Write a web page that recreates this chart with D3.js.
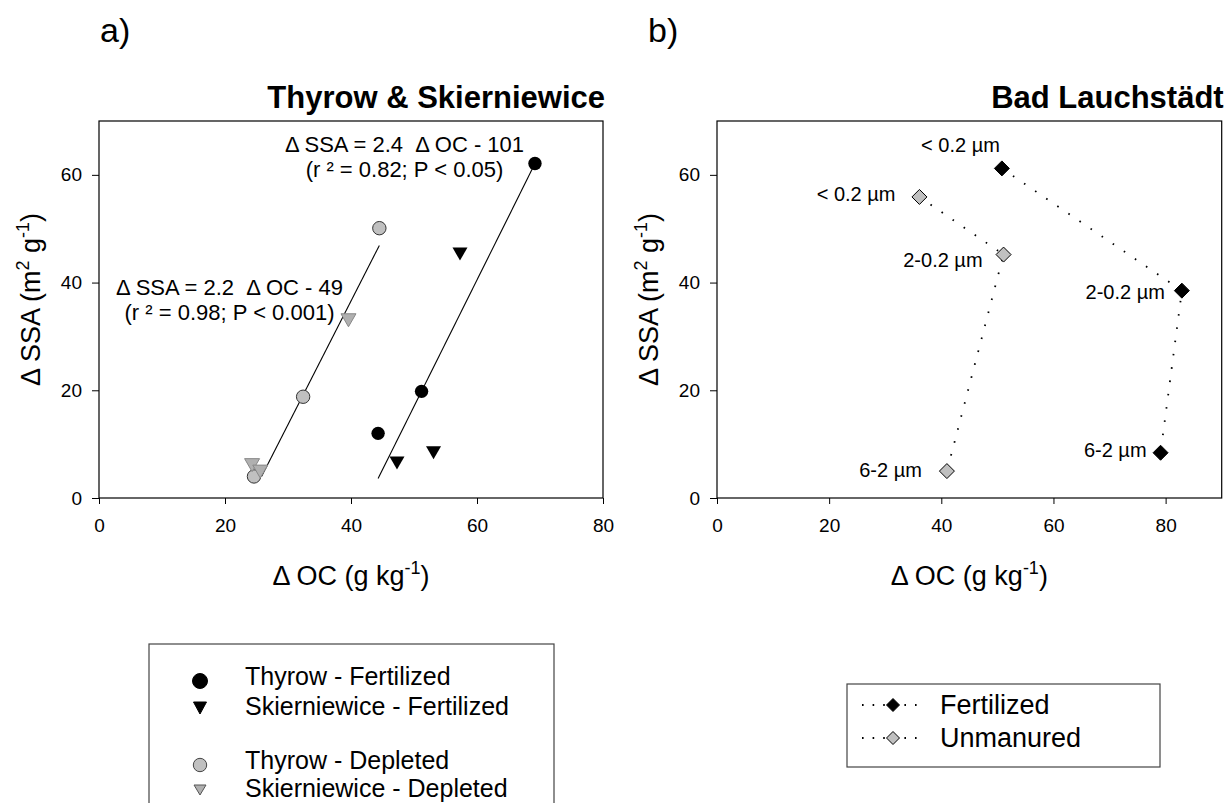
<!DOCTYPE html>
<html>
<head>
<meta charset="utf-8">
<script src="https://cdn.jsdelivr.net/npm/d3@7"></script>
<style>
    body { margin: 0; background: #fff; }
    svg { font-family: Arial, "Liberation Sans", sans-serif; }
</style>
</head>
<body>
<svg id="chart" width="1224" height="803"></svg>
<script>
// ---- panel a: Thyrow & Skierniewice ----
const thyrowFertOC = [69.2, 51.2, 44.3];
const thyrowFertSSA = [62.1, 19.8, 12.0];
const skierFertOC = [57.3, 47.3, 53.1];
const skierFertSSA = [45.3, 6.5, 8.4];
const thyrowDeplOC = [44.5, 32.4, 24.6];
const thyrowDeplSSA = [50.1, 18.8, 4.0];
const skierDeplOC = [39.6, 24.3, 25.6];
const skierDeplSSA = [33.0, 6.1, 4.9];

// regression line end points as drawn
const fitFertOC = [44.3, 68.9];
const fitFertSSA = [3.6, 61.4];
const fitDeplOC = [25.8, 44.5];
const fitDeplSSA = [4.0, 46.9];

const eqFert = ["\u0394 SSA = 2.4  \u0394 OC - 101", "(r \u00b2 = 0.82; P < 0.05)"];
const eqDepl = ["\u0394 SSA = 2.2  \u0394 OC - 49", "(r \u00b2 = 0.98; P < 0.001)"];
const legendA = ["Thyrow - Fertilized", "Skierniewice - Fertilized", "Thyrow - Depleted", "Skierniewice - Depleted"];

// ---- panel b: Bad Lauchstaedt ----
const fractions = ["< 0.2 \u00b5m", "2-0.2 \u00b5m", "6-2 \u00b5m"];
const badFertOC = [50.8, 82.9, 79.1];
const badFertSSA = [61.2, 38.5, 8.4];
const badUnmanOC = [36.1, 51.1, 41.0];
const badUnmanSSA = [55.9, 45.2, 5.0];
const legendB = ["Fertilized", "Unmanured"];

const ocTicks = [0, 20, 40, 60, 80];
const ssaTicks = [0, 20, 40, 60];

const svg = d3.select("#chart");
const grey = "#c0c0c0";
const dots = "1.6 11.8";

const xA = d3.scaleLinear().domain([0, 80]).range([99, 603]);
const xB = d3.scaleLinear().domain([0, 90]).range([717, 1221.7]);
const y = d3.scaleLinear().domain([0, 70]).range([498, 121]);

function tri(w, h) {
    return `M${-w / 2},${-h / 2}L${w / 2},${-h / 2}L0,${h / 2}Z`;
}
function diamond(r) {
    return `M0,${-r}L${r},0L0,${r}L${-r},0Z`;
}

function drawFrame(x, title, tag, tagX) {
    const g = svg.append("g");

    g.append("g")
        .attr("transform", `translate(0,${y(0)})`)
        .call(d3.axisBottom(x).tickValues(ocTicks).tickSizeInner(6).tickSizeOuter(0).tickPadding(15))
        .call(a => a.select(".domain").remove())
        .selectAll("text").style("font-size", "19px").attr("fill", "#000");

    g.append("g")
        .attr("transform", `translate(${x.range()[0]},0)`)
        .call(d3.axisLeft(y).tickValues(ssaTicks).tickSizeInner(7).tickSizeOuter(0).tickPadding(10))
        .call(a => a.select(".domain").remove())
        .selectAll("text").style("font-size", "19px").attr("fill", "#000");

    g.append("rect")
        .attr("x", x.range()[0]).attr("y", y(70))
        .attr("width", x.range()[1] - x.range()[0])
        .attr("height", y(0) - y(70))
        .attr("fill", "none").attr("stroke", "#000").attr("stroke-width", 1.2);

    // x label
    const xl = g.append("text")
        .attr("x", (x.range()[0] + x.range()[1]) / 2).attr("y", 585)
        .attr("text-anchor", "middle").style("font-size", "27px");
    xl.append("tspan").text("\u0394 OC (g kg");
    xl.append("tspan").attr("dy", -11).style("font-size", "18px").text("-1");
    xl.append("tspan").attr("dy", 11).text(")");

    // y label
    const yl = g.append("text")
        .attr("transform", `translate(${x.range()[0] - 59},${(y(0) + y(70)) / 2 - 10}) rotate(-90)`)
        .attr("text-anchor", "middle").style("font-size", "27px");
    yl.append("tspan").text("\u0394 SSA (m");
    yl.append("tspan").attr("dy", -11).style("font-size", "18px").text("2");
    yl.append("tspan").attr("dy", 11).text(" g");
    yl.append("tspan").attr("dy", -11).style("font-size", "18px").text("-1");
    yl.append("tspan").attr("dy", 11).text(")");

    g.append("text")
        .attr("x", x.range()[1] + 2).attr("y", 108)
        .attr("text-anchor", "end")
        .style("font-size", "31px").style("font-weight", "bold")
        .text(title);

    g.append("text")
        .attr("x", tagX).attr("y", 42)
        .style("font-size", "34px")
        .text(tag);
    return g;
}

// ================= panel a =================
const ga = drawFrame(xA, "Thyrow & Skierniewice", "a)", 100);

const fitLine = d3.line().x(d => xA(d[0])).y(d => y(d[1]));
[[fitFertOC, fitFertSSA], [fitDeplOC, fitDeplSSA]].forEach(([xs, ys]) => {
    ga.append("path")
        .attr("d", fitLine(d3.zip(xs, ys)))
        .attr("fill", "none").attr("stroke", "#000").attr("stroke-width", 1.1);
});

ga.append("g").selectAll("circle")
    .data(d3.zip(thyrowDeplOC, thyrowDeplSSA))
    .join("circle")
    .attr("cx", d => xA(d[0])).attr("cy", d => y(d[1])).attr("r", 6.7)
    .attr("fill", grey).attr("stroke", "#333").attr("stroke-width", 1);

ga.append("g").selectAll("path")
    .data(d3.zip(skierDeplOC, skierDeplSSA))
    .join("path")
    .attr("d", tri(15, 13))
    .attr("transform", d => `translate(${xA(d[0])},${y(d[1])})`)
    .attr("fill", "#b0b0b0").attr("stroke", "#888").attr("stroke-width", 1);

ga.append("g").selectAll("circle")
    .data(d3.zip(thyrowFertOC, thyrowFertSSA))
    .join("circle")
    .attr("cx", d => xA(d[0])).attr("cy", d => y(d[1])).attr("r", 6.7)
    .attr("fill", "#000");

ga.append("g").selectAll("path")
    .data(d3.zip(skierFertOC, skierFertSSA))
    .join("path")
    .attr("d", tri(15, 13))
    .attr("transform", d => `translate(${xA(d[0])},${y(d[1])})`)
    .attr("fill", "#000");

function equation(lines, cx, y1, y2) {
    const t = ga.append("text").attr("text-anchor", "middle").style("font-size", "22px");
    t.append("tspan").attr("x", cx).attr("y", y1).attr("xml:space", "preserve").text(lines[0]);
    t.append("tspan").attr("x", cx).attr("y", y2).text(lines[1]);
}
equation(eqFert, 404.5, 152, 177);
equation(eqDepl, 229.5, 295, 320);

// legend a
const la = svg.append("g");
la.append("rect").attr("x", 149).attr("y", 644).attr("width", 405).attr("height", 170)
    .attr("fill", "none").attr("stroke", "#444").attr("stroke-width", 1.2);
const legRowsA = [685, 715, 769, 797];
legendA.forEach((name, i) => {
    const by = legRowsA[i];
    if (i % 2 === 0) {
        la.append("circle").attr("cx", 200).attr("cy", by - 4).attr("r", i === 0 ? 7.5 : 6.7)
            .attr("fill", i === 0 ? "#000" : grey).attr("stroke", i === 0 ? "#000" : "#444");
    } else {
        la.append("path").attr("d", i === 1 ? tri(13, 12) : tri(12, 10))
            .attr("transform", `translate(200,${by - 7})`)
            .attr("fill", i === 1 ? "#000" : "#b0b0b0").attr("stroke", i === 1 ? "#000" : "#555");
    }
    la.append("text").attr("x", 245).attr("y", by).style("font-size", "25px").text(name);
});

// ================= panel b =================
const gb = drawFrame(xB, "Bad Lauchst\u00e4dt", "b)", 648);

const dotLine = d3.line().x(d => xB(d[0])).y(d => y(d[1]));
[[badFertOC, badFertSSA], [badUnmanOC, badUnmanSSA]].forEach(([xs, ys]) => {
    gb.append("path")
        .attr("d", dotLine(d3.zip(xs, ys)))
        .attr("fill", "none").attr("stroke", "#000").attr("stroke-width", 1.8)
        .attr("stroke-dasharray", dots);
});

// label offsets (end anchor) per fraction
const offFert = [[-2, -16], [-17, 8], [-14, 4]];
const offUnman = [[-24, 4], [-21, 12], [-25, 6]];

function diamonds(xs, ys, fill, offs) {
    const pts = d3.zip(xs, ys, fractions, offs);
    gb.append("g").selectAll("path")
        .data(pts).join("path")
        .attr("d", diamond(7.5))
        .attr("transform", d => `translate(${xB(d[0])},${y(d[1])})`)
        .attr("fill", fill).attr("stroke", "#000").attr("stroke-width", 1);
    gb.append("g").selectAll("text")
        .data(pts).join("text")
        .attr("x", d => xB(d[0]) + d[3][0]).attr("y", d => y(d[1]) + d[3][1])
        .attr("text-anchor", "end").style("font-size", "20px")
        .text(d => d[2]);
}
diamonds(badUnmanOC, badUnmanSSA, grey, offUnman);
diamonds(badFertOC, badFertSSA, "#000", offFert);

// legend b
const lb = svg.append("g");
lb.append("rect").attr("x", 847).attr("y", 684).attr("width", 313).attr("height", 83)
    .attr("fill", "none").attr("stroke", "#444").attr("stroke-width", 1.2);
const legRowsB = [705, 738];
legendB.forEach((name, i) => {
    const cy = legRowsB[i];
    lb.append("path").attr("d", `M862,${cy}L920,${cy}`)
        .attr("stroke", "#000").attr("stroke-width", 1.8).attr("stroke-dasharray", "1.6 9");
    lb.append("path").attr("d", diamond(6.5))
        .attr("transform", `translate(893,${cy})`)
        .attr("fill", i === 0 ? "#000" : grey).attr("stroke", "#000");
    lb.append("text").attr("x", 940).attr("y", cy + 9).style("font-size", "27px").text(name);
});
</script>
</body>
</html>
